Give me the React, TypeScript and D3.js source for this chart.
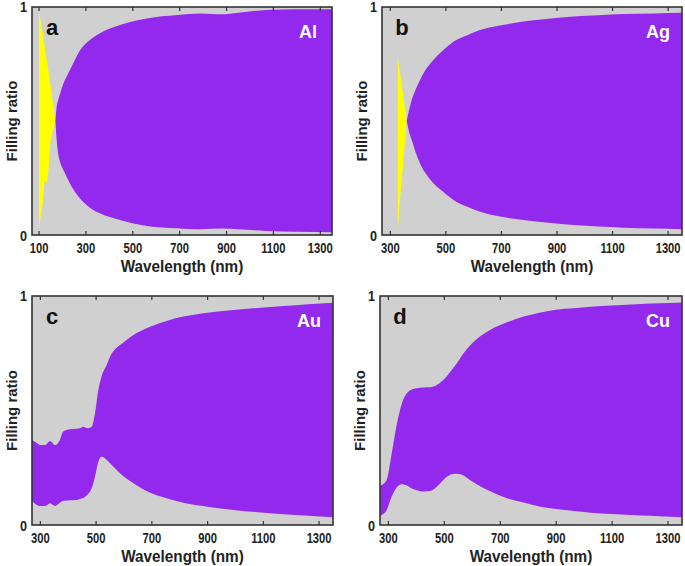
import React from "react";
import * as d3 from "d3";

// wavelengths (nm) and the two boundary curves of each panel
const alWl = [100, 110, 118, 125, 132, 140, 147, 155, 163, 170, 175, 180, 190, 204, 220, 240, 275, 317, 360, 445, 560, 690, 790, 880, 950, 1070, 1200, 1350];
const alLow = [0.985, 0.92, 0.87, 0.82, 0.77, 0.72, 0.67, 0.61, 0.55, 0.5, 0.42, 0.37, 0.32, 0.285, 0.25, 0.21, 0.16, 0.12, 0.095, 0.066, 0.04, 0.03, 0.025, 0.028, 0.025, 0.018, 0.014, 0.012];
const alUp = [0.03, 0.1, 0.16, 0.24, 0.23, 0.28, 0.39, 0.44, 0.47, 0.5, 0.56, 0.585, 0.62, 0.665, 0.7, 0.74, 0.81, 0.855, 0.885, 0.921, 0.95, 0.965, 0.972, 0.968, 0.975, 0.987, 0.99, 0.99];

const agWl = [327, 335, 343, 351, 359, 368, 377, 392, 407, 430, 455, 490, 527, 575, 623, 700, 779, 870, 959, 1050, 1139, 1250, 1350];
const agLow = [0.78, 0.71, 0.64, 0.57, 0.5, 0.45, 0.417, 0.36, 0.314, 0.265, 0.227, 0.19, 0.154, 0.125, 0.102, 0.08, 0.066, 0.054, 0.044, 0.037, 0.032, 0.028, 0.025];
const agUp = [0.02, 0.16, 0.27, 0.39, 0.5, 0.55, 0.592, 0.64, 0.68, 0.73, 0.768, 0.81, 0.848, 0.875, 0.899, 0.92, 0.936, 0.948, 0.958, 0.964, 0.969, 0.972, 0.975];

const auWl = [270, 285, 299, 317, 335, 353, 370, 382, 406, 430, 442, 454, 468, 484, 496, 508, 520, 538, 550, 574, 586, 634, 694, 750, 813, 900, 992, 1080, 1172, 1260, 1350];
const auUp = [0.37, 0.36, 0.349, 0.349, 0.367, 0.349, 0.371, 0.408, 0.418, 0.42, 0.422, 0.429, 0.422, 0.429, 0.488, 0.59, 0.65, 0.7, 0.735, 0.775, 0.786, 0.83, 0.866, 0.89, 0.91, 0.927, 0.939, 0.948, 0.956, 0.964, 0.971];
const auLow = [0.105, 0.09, 0.083, 0.083, 0.095, 0.083, 0.097, 0.106, 0.108, 0.109, 0.114, 0.118, 0.131, 0.16, 0.211, 0.276, 0.298, 0.284, 0.27, 0.24, 0.226, 0.182, 0.141, 0.118, 0.097, 0.08, 0.066, 0.056, 0.047, 0.04, 0.034];

const cuWl = [270, 276, 294, 312, 330, 348, 366, 380, 402, 425, 449, 473, 491, 509, 527, 545, 563, 593, 630, 664, 724, 784, 844, 900, 963, 1023, 1100, 1202, 1270, 1350];
const cuUp = [0.17, 0.175, 0.197, 0.313, 0.44, 0.53, 0.575, 0.59, 0.597, 0.6, 0.601, 0.611, 0.628, 0.65, 0.678, 0.706, 0.74, 0.785, 0.825, 0.852, 0.885, 0.91, 0.928, 0.94, 0.946, 0.953, 0.958, 0.965, 0.968, 0.972];
const cuLow = [0.04, 0.044, 0.066, 0.125, 0.165, 0.178, 0.172, 0.162, 0.152, 0.146, 0.148, 0.167, 0.19, 0.211, 0.222, 0.224, 0.219, 0.195, 0.168, 0.147, 0.117, 0.098, 0.08, 0.07, 0.061, 0.054, 0.048, 0.041, 0.038, 0.034];

const ticksA = [100, 300, 500, 700, 900, 1100, 1300];
const ticksB = [300, 500, 700, 900, 1100, 1300];

const panels = [
  { letter: "a", metal: "Al", wl: alWl, low: alLow, up: alUp, xmin: 70, ticks: ticksA, box: [32, 332, 7, 235] },
  { letter: "b", metal: "Ag", wl: agWl, low: agLow, up: agUp, xmin: 270, ticks: ticksB, box: [382, 682, 7, 235] },
  { letter: "c", metal: "Au", wl: auWl, low: auLow, up: auUp, xmin: 270, ticks: ticksB, box: [32, 333, 296, 525] },
  { letter: "d", metal: "Cu", wl: cuWl, low: cuLow, up: cuUp, xmin: 270, ticks: ticksB, box: [380, 682, 296, 525] },
];

const PURPLE = "#9229ec";
const YELLOW = "#ffff00";
const BG = "#d0d0d0";
const FONT = "'Liberation Sans', Arial, sans-serif";

function T({ x, y, children, anchor = "middle", size = 12, sx = 1, fill = "#222", rotate = 0 }: any) {
  return (
    <text
      transform={`translate(${x},${y}) rotate(${rotate}) scale(${sx},1)`}
      textAnchor={anchor}
      fontFamily={FONT}
      fontWeight="bold"
      fontSize={size}
      fill={fill}
    >
      {children}
    </text>
  );
}

function Panel({ p, idx }: any) {
  const [x0, x1, y0, y1] = p.box;
  const x = d3.scaleLinear().domain([p.xmin, 1350]).range([x0, x1]);
  const y = d3.scaleLinear().domain([0, 1]).range([y1, y0]);
  const rows = p.wl.map((w: number, i: number) => ({ w, lo: p.low[i], hi: p.up[i] }));
  // first point where the curves meet (low <= up); before it the band is inverted (yellow)
  const cross = rows.findIndex((r: any) => r.lo <= r.hi);
  const area = d3
    .area<any>()
    .x((r) => x(r.w))
    .y0((r) => y(r.lo))
    .y1((r) => y(r.hi))
    .curve(d3.curveMonotoneX);
  const inverted = cross > 0 ? rows.slice(0, cross + 1) : [];
  const normal = rows.slice(Math.max(cross, 0));
  const clipId = `clip${idx}`;
  const midX = (x0 + x1) / 2;
  const midY = (y0 + y1) / 2;
  return (
    <g>
      <defs>
        <clipPath id={clipId}>
          <rect x={x0} y={y0} width={x1 - x0} height={y1 - y0} />
        </clipPath>
      </defs>
      <rect x={x0} y={y0} width={x1 - x0} height={y1 - y0} fill={BG} />
      <g clipPath={`url(#${clipId})`}>
        {inverted.length > 1 && <path d={area(inverted) || ""} fill={YELLOW} />}
        <path d={area(normal) || ""} fill={PURPLE} />
      </g>
      {p.ticks.map((t: number) => (
        <g key={t}>
          <line x1={x(t)} x2={x(t)} y1={y1} y2={y1 - 4} stroke="#333" strokeWidth={1.2} />
          <line x1={x(t)} x2={x(t)} y1={y0} y2={y0 + 4} stroke="#333" strokeWidth={1.2} />
          <T x={x(t)} y={y1 + 18} size={14} sx={0.8}>
            {t}
          </T>
        </g>
      ))}
      <rect x={x0} y={y0} width={x1 - x0} height={y1 - y0} fill="none" stroke="#333" strokeWidth={1.6} />
      <T x={x0 - 5} y={y(1) + 5} anchor="end" size={14} sx={0.9}>
        1
      </T>
      <T x={x0 - 5} y={y(0) + 6} anchor="end" size={14} sx={0.9}>
        0
      </T>
      <T x={midX} y={y1 + 37} size={17} sx={0.9}>
        Wavelength (nm)
      </T>
      <T x={x0 - 15} y={midY} size={15} rotate={-90}>
        Filling ratio
      </T>
      <T x={x0 + 20} y={y0 + 28} size={22} fill="#111">
        {p.letter}
      </T>
      <T x={x1 - 24} y={y0 + 31} size={18} fill="#fff">
        {p.metal}
      </T>
    </g>
  );
}

export default function App() {
  return (
    <svg width={685} height={566} style={{ position: "absolute", left: 0, top: 0, background: "#fff" }}>
      {panels.map((p, i) => (
        <Panel key={p.letter} p={p} idx={i} />
      ))}
    </svg>
  );
}
